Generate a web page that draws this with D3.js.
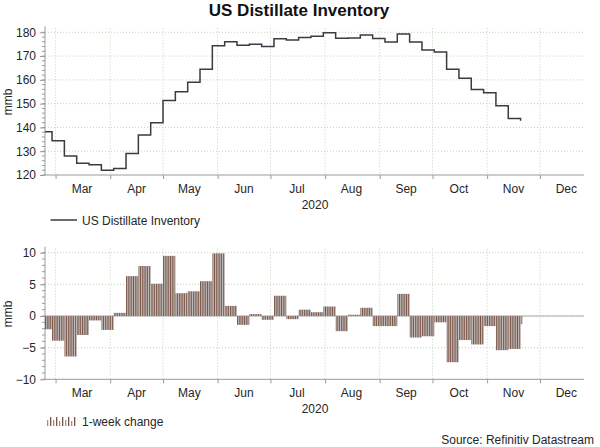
<!DOCTYPE html>
<html>
<head>
<meta charset="utf-8">
<script src="https://cdn.jsdelivr.net/npm/d3@7"></script>
<style>
  body { margin: 0; background: #fff; }
  svg { font-family: "Liberation Sans", Arial, sans-serif; }
</style>
</head>
<body>
<div id="chart"></div>
<script>
// weekly data, week ending dates (2020)
var weeks = ['2020-02-21','2020-02-28','2020-03-06','2020-03-13','2020-03-20','2020-03-27',
  '2020-04-03','2020-04-10','2020-04-17','2020-04-24','2020-05-01','2020-05-08','2020-05-15',
  '2020-05-22','2020-05-29','2020-06-05','2020-06-12','2020-06-19','2020-06-26','2020-07-03',
  '2020-07-10','2020-07-17','2020-07-24','2020-07-31','2020-08-07','2020-08-14','2020-08-21',
  '2020-08-28','2020-09-04','2020-09-11','2020-09-18','2020-09-25','2020-10-02','2020-10-09',
  '2020-10-16','2020-10-23','2020-10-30','2020-11-06','2020-11-13','2020-11-20'];

var inventory = [138.2,134.4,128.0,124.9,124.3,122.0,122.7,129.0,136.8,142.0,151.3,155.0,159.0,
  164.5,174.3,176.0,174.6,175.0,174.0,177.3,176.8,177.8,178.3,179.8,177.5,177.6,178.9,177.4,
  175.9,179.3,175.9,172.6,171.7,164.5,160.7,156.0,154.6,149.1,143.8,142.8];

var change = [-2.1,-3.9,-6.4,-3.0,-0.7,-2.2,0.5,6.3,7.9,5.1,9.5,3.6,3.9,5.5,9.9,1.6,-1.4,0.3,
  -0.6,3.2,-0.5,1.0,0.6,1.5,-2.4,0.2,1.3,-1.6,-1.6,3.5,-3.4,-3.2,-1.0,-7.3,-3.8,-4.5,-1.6,
  -5.4,-5.2,-1.3];

var monthLabels = ['Mar','Apr','May','Jun','Jul','Aug','Sep','Oct','Nov','Dec'];
var topTicks = [120,130,140,150,160,170,180];
var bottomTicks = [-10,-5,0,5,10];
var legendGlyph = [6,9,6,9,5,9,6,9,5,9]; // heights of the little bars in the legend icon

var width = 600, height = 447;
var left = 45, right = 584;
var parse = d3.timeParse('%Y-%m-%d');
var dates = weeks.map(parse);

var svg = d3.select('#chart').append('svg').attr('width', width).attr('height', height);

var x = d3.scaleTime()
  .domain([new Date(2020, 1, 24), new Date(2020, 11, 26)])
  .range([left, right]);
var dayW = x(new Date(2020, 1, 25)) - x(new Date(2020, 1, 24));

var yTop = d3.scaleLinear().domain([120, 180]).range([175, 32.3]);
var yBot = d3.scaleLinear().domain([-10, 10]).range([379.3, 252.7]);

var monthStarts = d3.timeMonth.range(new Date(2020, 2, 1), new Date(2020, 11, 2));
var gridCol = '#bfd6b8', axisCol = '#9a9a9a', textCol = '#262626';

// title
svg.append('text').attr('x', 299).attr('y', 15.5).attr('text-anchor', 'middle')
  .style('font-weight', 'bold').style('font-size', '17px').attr('fill', '#111')
  .text('US Distillate Inventory');

// stripe pattern for the bars (one stripe per day)
var pat = svg.append('defs').append('pattern')
  .attr('id', 'stripes').attr('patternUnits', 'userSpaceOnUse')
  .attr('x', x(new Date(2020, 1, 24))).attr('y', 0)
  .attr('width', dayW).attr('height', 10);
pat.append('rect').attr('width', dayW).attr('height', 10).attr('fill', '#e6e3e2');
pat.append('rect').attr('width', dayW * 0.5).attr('height', 10).attr('fill', '#7a5547');
pat.append('rect').attr('x', dayW * 0.5).attr('width', dayW * 0.3).attr('height', 10).attr('fill', '#a9a6a6');

svg.select('defs').append('clipPath').attr('id', 'clip')
  .append('rect').attr('x', left).attr('y', 0).attr('width', right - left).attr('height', height);

function panel(y, ticks, minorStep, labelY, yearY, labelMid) {
  var g = svg.append('g');
  var y0 = y.range()[0], y1 = y.range()[1];

  // gridlines
  g.selectAll('.hg').data(ticks.slice(1)).enter().append('line')
    .attr('x1', left).attr('x2', right)
    .attr('y1', function(d) { return y(d); }).attr('y2', function(d) { return y(d); })
    .attr('stroke', gridCol).attr('stroke-dasharray', '1,2');
  g.selectAll('.vg').data(monthStarts).enter().append('line')
    .attr('x1', function(d) { return x(d); }).attr('x2', function(d) { return x(d); })
    .attr('y1', y1 - 4).attr('y2', y0)
    .attr('stroke', gridCol).attr('stroke-dasharray', '1,2');

  // y axis
  var ya = d3.axisLeft(y).tickValues(ticks).tickSize(5).tickPadding(4);
  var yg = g.append('g').attr('transform', 'translate(' + left + ',0)').call(ya);
  yg.select('.domain').attr('stroke', axisCol).attr('d', 'M0,' + y0 + 'V' + (y1 - 6));
  yg.selectAll('.tick line').attr('stroke', axisCol);
  yg.selectAll('.tick text').style('font-size', '12px').attr('fill', textCol);
  var minor = d3.range(y.domain()[0], y.domain()[1] + 0.001, minorStep);
  g.selectAll('.mt').data(minor).enter().append('line')
    .attr('x1', left - 3).attr('x2', left)
    .attr('y1', function(d) { return y(d); }).attr('y2', function(d) { return y(d); })
    .attr('stroke', axisCol);

  // x axis
  var xa = d3.axisBottom(x).tickValues(monthStarts).tickSize(4).tickFormat('');
  var xg = g.append('g').attr('transform', 'translate(0,' + y0 + ')').call(xa);
  xg.select('.domain').attr('stroke', axisCol).attr('d', 'M' + left + ',0H' + right);
  xg.selectAll('.tick line').attr('stroke', axisCol);

  g.selectAll('.ml').data(monthStarts).enter().append('text')
    .attr('x', function(d) { return x(d3.timeDay.offset(d, 15)); })
    .attr('y', labelY).attr('text-anchor', 'middle')
    .style('font-size', '12px').attr('fill', textCol)
    .text(function(d, i) { return monthLabels[i]; });
  g.append('text').attr('x', 315).attr('y', yearY).attr('text-anchor', 'middle')
    .style('font-size', '12px').attr('fill', textCol).text('2020');

  g.append('text').attr('transform', 'translate(12,' + labelMid + ') rotate(-90)')
    .attr('text-anchor', 'middle').style('font-size', '12px').attr('fill', textCol).text('mmb');
  return g;
}

// top panel: inventory line
panel(yTop, topTicks, 2, 192.5, 209, 102);
var line = d3.line()
  .x(function(d, i) { return x(dates[i]); })
  .y(function(d) { return yTop(d); })
  .curve(d3.curveStepAfter);
svg.append('path').datum(inventory)
  .attr('clip-path', 'url(#clip)')
  .attr('d', line).attr('fill', 'none')
  .attr('stroke', '#3b3b40').attr('stroke-width', 1.5);

// top legend
svg.append('line').attr('x1', 50.5).attr('x2', 77).attr('y1', 220).attr('y2', 220)
  .attr('stroke', '#3b3b40').attr('stroke-width', 1.5);
svg.append('text').attr('x', 82).attr('y', 224.5).style('font-size', '12px')
  .attr('fill', textCol).text('US Distillate Inventory');

// bottom panel: weekly change bars
panel(yBot, bottomTicks, 1, 397, 413, 314);
svg.append('line').attr('x1', left).attr('x2', right)
  .attr('y1', yBot(0)).attr('y2', yBot(0)).attr('stroke', '#a8a8a8');
svg.append('g').attr('clip-path', 'url(#clip)')
  .selectAll('rect').data(change).enter().append('rect')
  .attr('x', function(d, i) { return x(dates[i]); })
  .attr('width', function(d, i) {
    var end = i < dates.length - 1 ? dates[i + 1] : d3.timeDay.offset(dates[i], 1);
    return x(end) - x(dates[i]);
  })
  .attr('y', function(d) { return yBot(Math.max(0, d)); })
  .attr('height', function(d) { return Math.abs(yBot(d) - yBot(0)); })
  .attr('fill', 'url(#stripes)');

// bottom legend
svg.selectAll('.lg').data(legendGlyph).enter().append('rect')
  .attr('x', function(d, i) { return 47 + i * 3; })
  .attr('y', function(d) { return 426 - d; })
  .attr('width', 1.3).attr('height', function(d) { return d; })
  .attr('fill', function(d, i) { return i % 2 ? '#7a5547' : '#9a9090'; });
svg.append('text').attr('x', 82).attr('y', 426).style('font-size', '12px')
  .attr('fill', textCol).text('1-week change');

// source
svg.append('text').attr('x', 594).attr('y', 444).attr('text-anchor', 'end')
  .style('font-size', '12px').attr('fill', textCol).text('Source: Refinitiv Datastream');
</script>
</body>
</html>
